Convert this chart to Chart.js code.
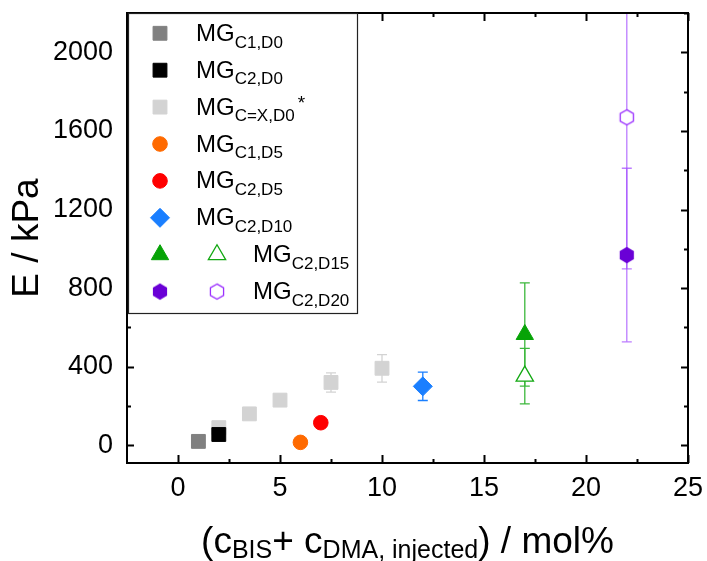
<!DOCTYPE html>
<html lang="en">
<head>
<meta charset="UTF-8">
<title>E vs crosslinker content</title>
<style>
    body { margin: 0; background: #fff; }
    #wrap { width: 707px; height: 561px; }
</style>
<script src="https://cdn.jsdelivr.net/npm/chart.js@4"></script>
</head>
<body>
<div id="wrap"><canvas id="eChart" width="707" height="561"></canvas></div>
<script>
    // x: (c_BIS + c_DMA,injected) / mol%, y: E / kPa
    const xTickValues = [0, 5, 10, 15, 20, 25];
    const yTickValues = [0, 400, 800, 1200, 1600, 2000];

    const c1d0X = [1];                      const c1d0Y = [20];
    const c2d0X = [2];                      const c2d0Y = [55];
    const cxd0X = [2, 3.5, 5, 7.5, 10];     const cxd0Y = [90, 160, 230, 320, 392];
    const cxd0Err = [0, 0, 0, 49, 70];
    const c1d5X = [6];                      const c1d5Y = [15];
    const c2d5X = [7];                      const c2d5Y = [115];
    const c2d10X = [12];                    const c2d10Y = [300];   const c2d10Err = [72];
    const c2d15X = [17];                    const c2d15Y = [564];   const c2d15Err = [263];
    const c2d15OpenX = [17];                const c2d15OpenY = [352]; const c2d15OpenErr = [141];
    const c2d20X = [22];                    const c2d20Y = [968];   const c2d20Err = [442];
    const c2d20OpenX = [22];                const c2d20OpenY = [1669]; const c2d20OpenErr = [771];

    const FONT = '"Liberation Sans", Arial, sans-serif';

    function pts(xs, ys) {
        return xs.map((x, i) => ({ x: x, y: ys[i] }));
    }

    // Chart.js has no hexagon style, so build one on a small canvas
    function hexagon(fill, stroke, r) {
        const c = document.createElement('canvas');
        const s = 20;
        c.width = s; c.height = s;
        const g = c.getContext('2d');
        g.beginPath();
        for (let k = 0; k < 6; k++) {
            const a = -Math.PI / 2 + k * Math.PI / 3;
            const px = s / 2 + r * Math.cos(a), py = s / 2 + r * Math.sin(a);
            if (k === 0) g.moveTo(px, py); else g.lineTo(px, py);
        }
        g.closePath();
        g.fillStyle = fill;
        g.fill();
        if (stroke) {
            g.strokeStyle = stroke;
            g.lineWidth = 1.3;
            g.stroke();
        }
        return c;
    }

    const hexFilled = hexagon('#6a00d6', null, 8.2);
    const hexOpen = hexagon('#ffffff', '#9b30ff', 7.6);

    const datasets = [
        { data: pts(c1d0X, c1d0Y), pointStyle: 'rect', pointRadius: 9.8, backgroundColor: '#808080', borderColor: '#808080' },
        { data: pts(c2d0X, c2d0Y), pointStyle: 'rect', pointRadius: 9.8, backgroundColor: '#000000', borderColor: '#000000' },
        { data: pts(cxd0X, cxd0Y), pointStyle: 'rect', pointRadius: 9.8, backgroundColor: '#d3d3d3', borderColor: '#d3d3d3',
          errors: cxd0Err, errColor: '#d3d3d3' },
        { data: pts(c1d5X, c1d5Y), pointStyle: 'circle', pointRadius: 7.3, backgroundColor: '#ff6a00', borderColor: '#ff6a00' },
        { data: pts(c2d5X, c2d5Y), pointStyle: 'circle', pointRadius: 7.3, backgroundColor: '#ff0000', borderColor: '#ff0000' },
        { data: pts(c2d10X, c2d10Y), pointStyle: 'rectRot', pointRadius: 9.5, backgroundColor: '#1a7fff', borderColor: '#1a7fff',
          errors: c2d10Err, errColor: '#1a7fff' },
        { data: pts(c2d15X, c2d15Y), pointStyle: 'triangle', pointRadius: 10, backgroundColor: '#07a307', borderColor: '#07a307',
          errors: c2d15Err, errColor: '#3cb83c' },
        { data: pts(c2d15OpenX, c2d15OpenY), pointStyle: 'triangle', pointRadius: 10, backgroundColor: '#ffffff', borderColor: '#12a812',
          pointBorderWidth: 1.3, errors: c2d15OpenErr, errColor: '#3cb83c' },
        { data: pts(c2d20X, c2d20Y), pointStyle: hexFilled, pointRadius: 8, backgroundColor: '#6a00d6', borderColor: '#6a00d6',
          errors: c2d20Err, errColor: 'rgba(160, 70, 255, 0.7)' },
        { data: pts(c2d20OpenX, c2d20OpenY), pointStyle: hexOpen, pointRadius: 8, backgroundColor: '#ffffff', borderColor: '#9b30ff',
          errors: c2d20OpenErr, errColor: 'rgba(160, 70, 255, 0.7)' }
    ];

    const legendRows = [
        { sets: [0], sub: 'C1,D0' },
        { sets: [1], sub: 'C2,D0' },
        { sets: [2], sub: 'C=X,D0', sup: '*' },
        { sets: [3], sub: 'C1,D5' },
        { sets: [4], sub: 'C2,D5' },
        { sets: [5], sub: 'C2,D10' },
        { sets: [6, 7], sub: 'C2,D15' },
        { sets: [8, 9], sub: 'C2,D20' }
    ];

    const errorBars = {
        id: 'errorBars',
        beforeDatasetsDraw(chart) {
            const ctx = chart.ctx, a = chart.chartArea;
            const xs = chart.scales.x, ys = chart.scales.y;
            ctx.save();
            ctx.beginPath();
            ctx.rect(a.left, a.top, a.right - a.left, a.bottom - a.top);
            ctx.clip();
            chart.data.datasets.forEach(ds => {
                if (!ds.errors) return;
                ctx.strokeStyle = ds.errColor;
                ctx.lineWidth = 1.3;
                ds.data.forEach((p, i) => {
                    const e = ds.errors[i];
                    if (!e) return;
                    const px = xs.getPixelForValue(p.x);
                    const top = ys.getPixelForValue(p.y + e);
                    const bot = ys.getPixelForValue(p.y - e);
                    ctx.beginPath();
                    ctx.moveTo(px, top); ctx.lineTo(px, bot);
                    ctx.moveTo(px - 5, top); ctx.lineTo(px + 5, top);
                    ctx.moveTo(px - 5, bot); ctx.lineTo(px + 5, bot);
                    ctx.stroke();
                });
            });
            ctx.restore();
        }
    };

    // write a run of [text, size, dy] pieces from x on baseline y
    function runText(ctx, parts, x, y, measureOnly) {
        let cx = x;
        parts.forEach(p => {
            ctx.font = p[1] + 'px ' + FONT;
            if (!measureOnly) ctx.fillText(p[0], cx, y + p[2]);
            cx += ctx.measureText(p[0]).width;
        });
        return cx - x;
    }

    const frameAndLegend = {
        id: 'frameAndLegend',
        afterDraw(chart) {
            const ctx = chart.ctx, a = chart.chartArea;
            const xs = chart.scales.x, ys = chart.scales.y;
            ctx.save();

            // box and inward ticks on all four sides
            ctx.strokeStyle = '#000';
            ctx.lineWidth = 2;
            ctx.strokeRect(a.left, a.top, a.right - a.left, a.bottom - a.top);
            ctx.beginPath();
            xTickValues.forEach((v, i) => {
                const px = Math.round(xs.getPixelForValue(v)) + 0.5;
                ctx.moveTo(px, a.bottom); ctx.lineTo(px, a.bottom - 8);
                ctx.moveTo(px, a.top); ctx.lineTo(px, a.top + 8);
                const m = v - 2.5;
                const mx = Math.round(xs.getPixelForValue(m)) + 0.5;
                if (m > xs.min) {
                    ctx.moveTo(mx, a.bottom); ctx.lineTo(mx, a.bottom - 4);
                    ctx.moveTo(mx, a.top); ctx.lineTo(mx, a.top + 4);
                }
            });
            yTickValues.forEach(v => {
                const py = Math.round(ys.getPixelForValue(v)) + 0.5;
                ctx.moveTo(a.left, py); ctx.lineTo(a.left + 7, py);
                ctx.moveTo(a.right, py); ctx.lineTo(a.right - 7, py);
                const my = Math.round(ys.getPixelForValue(v + 200)) + 0.5;
                ctx.moveTo(a.left, my); ctx.lineTo(a.left + 4, my);
                ctx.moveTo(a.right, my); ctx.lineTo(a.right - 4, my);
            });
            ctx.stroke();

            // legend box
            const lx = 128, ly = 13, lw = 229, lh = 300;
            ctx.fillStyle = '#fff';
            ctx.fillRect(lx, ly, lw, lh);
            ctx.strokeStyle = '#222';
            ctx.lineWidth = 1.2;
            ctx.strokeRect(lx + 0.5, ly + 0.5, lw, lh);

            ctx.textBaseline = 'alphabetic';
            ctx.textAlign = 'left';
            legendRows.forEach((row, r) => {
                const cy = 33.3 + 36.9 * r;
                row.sets.forEach((di, k) => {
                    const o = chart.getDatasetMeta(di).data[0].options;
                    ctx.fillStyle = o.backgroundColor;
                    ctx.strokeStyle = o.borderColor;
                    ctx.lineWidth = o.borderWidth;
                    Chart.helpers.drawPoint(ctx, o, 160 + 57 * k, cy);
                });
                const tx = row.sets.length > 1 ? 253 : 196;
                ctx.fillStyle = '#000';
                const w = runText(ctx, [['MG', 24, 0], [row.sub, 17, 6.7]], tx, cy + 7.5);
                if (row.sup) runText(ctx, [[row.sup, 19, 0]], tx + w + 3, cy + 2);
            });

            // axis titles
            ctx.fillStyle = '#000';
            const xParts = [['(c', 37, 0], ['BIS', 25, 5], ['+ c', 37, 0], ['DMA, injected', 25, 5], [') / mol%', 37, 0]];
            const tw = runText(ctx, xParts, 0, 0, true);
            runText(ctx, xParts, (a.left + a.right) / 2 - tw / 2, 553);

            ctx.translate(38, (a.top + a.bottom) / 2);
            ctx.rotate(-Math.PI / 2);
            ctx.font = '37px ' + FONT;
            ctx.textAlign = 'center';
            ctx.fillText('E / kPa', 0, 0);
            ctx.restore();
        }
    };

    new Chart(document.getElementById('eChart'), {
        type: 'scatter',
        data: { datasets: datasets },
        options: {
            responsive: false,
            devicePixelRatio: 1,
            animation: false,
            layout: { padding: { top: 13, right: 19, left: 0, bottom: 0 } },
            elements: { point: { borderWidth: 1 } },
            plugins: { legend: { display: false }, tooltip: { enabled: false } },
            scales: {
                x: {
                    type: 'linear', min: -2.5, max: 25,
                    grid: { display: false, drawTicks: false },
                    border: { display: false },
                    ticks: { color: '#000', font: { family: FONT, size: 27 }, padding: 9, maxRotation: 0, autoSkip: false,
                             callback: v => String(v) },
                    afterBuildTicks: s => { s.ticks = xTickValues.map(v => ({ value: v })); },
                    afterFit: s => { s.height = 98; s.paddingLeft = 0; s.paddingRight = 0; }
                },
                y: {
                    type: 'linear', min: -90, max: 2200,
                    grid: { display: false, drawTicks: false },
                    border: { display: false },
                    ticks: { color: '#000', font: { family: FONT, size: 27 }, padding: 14, autoSkip: false,
                             callback: v => String(v) },
                    afterBuildTicks: s => { s.ticks = yTickValues.map(v => ({ value: v })); },
                    afterFit: s => { s.width = 127; s.paddingTop = 0; s.paddingBottom = 0; }
                }
            }
        },
        plugins: [errorBars, frameAndLegend]
    });
</script>
</body>
</html>
